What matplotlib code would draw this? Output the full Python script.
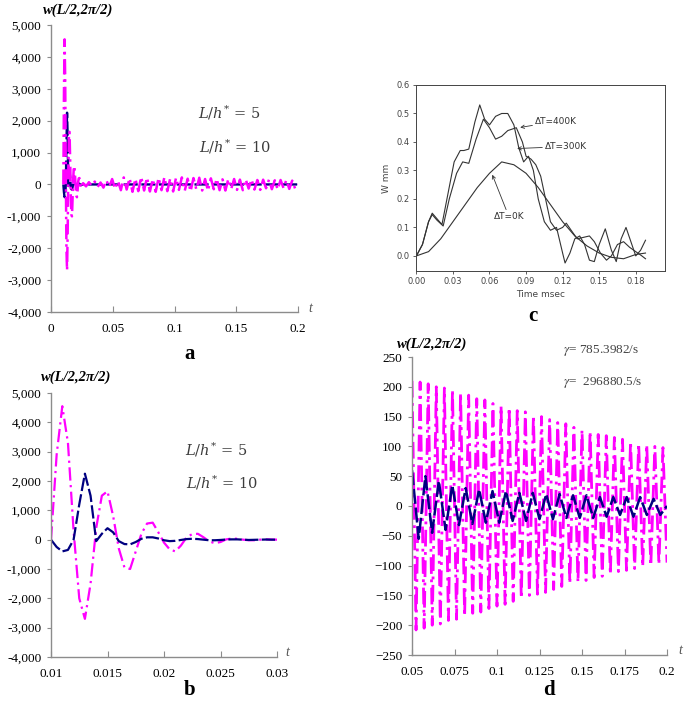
import matplotlib
matplotlib.use('Agg')
import matplotlib.pyplot as plt
import numpy as np
from matplotlib.ticker import FuncFormatter

plt.rcParams['mathtext.fontset'] = 'stix'

W, H = 685, 702

# ---- panel b (and start of panel a): t = 0.010 .. 0.030, step 0.0005
t_b = np.linspace(0.01, 0.03, 41)
mag_b = [0, 2900, 4550, 3300, 300, -2000, -2700, -1500, 400, 1500,
         1650, 800, -300, -950, -1000, -400, 200, 550, 580, 250,
         -100, -330, -400, -200, 80, 190, 200, 80, -60, -120,
         -80, 10, 40, 30, 0, -20, -20, 0, 10, 5, 0]
navy_b = [0, -250, -400, -350, 0, 1200, 2250, 1500, -50, 200,
          390, 250, -50, -150, -160, -80, 30, 80, 80, 40,
          -20, -50, -40, -10, 20, 30, 20, 0, -20, -20,
          -10, 5, 10, 10, 0, -10, -5, 0, 5, 0, 0]

# ---- panel a tail of L/h*=10 (t = 0.026 .. 0.2)
mag_a_tail = [40, -60, 70, -40, 90, -80, 60, -100, 130, -80,
              170, -140, 110, -180, 220, -160, 200, -230, 180, -210,
              240, -190, 220, -220, 170, -230, 210, -180, 230, -210,
              190, -220, 210, -170, 220, -200, 180, -220, 200, -160,
              210, -190, 170, -200, 190, -150, 180, -180, 160, -190,
              170, -140, 170, -170, 150, -180, 160, -130, 160, -160,
              140, -170, 150, -120, 150, -150, 130, -160, 140, -110,
              140, -140, 120, -130, 0]

c_t0 = [0, .01, .02, .03, .04, .05, .06, .065, .07, .08, .09, .1, .11,
        .12, .13, .14, .15, .16, .17, .18, .188]
c_w0 = [0, .015, .06, .12, .18, .24, .29, .31, .33, .32, .29, .24, .18,
        .12, .07, .035, .01, -.005, -.01, .005, .01]
c_t400 = [0, .005, .01, .013, .017, .022, .027, .033, .038, .043, .049, .055,
          .06, .065, .07, .075, .082, .087, .09, .094, .098, .102, .106, .11,
          .115, .12, .123, .127, .132, .137, .142, .146, .151, .156, .16, .165,
          .17, .175, .18, .185, .188]
c_w400 = [0, .04, .12, .145, .125, .105, .2, .29, .33, .325, .41, .48,
          .45, .41, .42, .44, .45, .4, .35, .34, .32, .28, .2, .12,
          .09, .1, .115, .09, .06, .065, .07, .05, .01, -.015, 0, .04,
          .05, .03, .015, 0, -.01]
c_t300 = [0, .005, .01, .013, .017, .021, .026, .031, .036, .039, .043, .048,
          .052, .056, .06, .065, .07, .075, .08, .084, .088, .092, .096, .1,
          .105, .11, .115, .12, .122, .126, .13, .134, .138, .142, .146, .15,
          .155, .16, .164, .168, .172, .176, .18, .184, .188]
c_w300 = [0, .04, .12, .15, .13, .11, .22, .33, .37, .37, .375, .47,
          .53, .48, .46, .49, .5, .5, .46, .38, .33, .35, .3, .2,
          .12, .09, .1, .01, -.025, .01, .06, .07, .04, -.015, -.02, .04,
          .095, .02, -.02, .06, .1, .05, 0, .02, .055]

# ---- panel d (t = 0.05 .. 0.2)
mag_d = [210, -208, 208, -205, 205, -200, 200, -198, 198, -192, 195, -190,
         190, -185, 186, -180, 180, -178, 178, -172, 172, -168, 168, -165,
         165, -160, 160, -155, 158, -150, 152, -148, 150, -145, 145, -140,
         140, -135, 138, -130, 132, -128, 128, -125, 125, -120, 120, -118,
         118, -115, 115, -110, 112, -108, 108, -105, 105, -102, 103, -100,
         100, -98, 98, -95]
navy_d = [60, -55, 50, -45, 42, -40, 35, -32, 30, -30, 28, -28, 25, -28,
          25, -25, 22, -25, 22, -22, 20, -22, 20, -20, 18, -20, 18, -20,
          15, -18, 15, -15, 15, -18, 15, -15, 12, -15, 0]

MAG = '#FF00FF'
NAVY = '#000080'
mag_ls = (0, (6, 2, 1, 2))
navy_ls = (0, (6, 1.5))
serif = 'Liberation Serif'


def box(l, t, r, b):
    return [l / W, 1 - b / H, (r - l) / W, (b - t) / H]


def style(ax):
    for s in ['top', 'right']:
        ax.spines[s].set_visible(False)
    for s in ['left', 'bottom']:
        ax.spines[s].set_color('#8c8c8c')
        ax.spines[s].set_linewidth(1.0)
    ax.tick_params(axis='x', direction='in', length=4, color='#8c8c8c',
                   labelsize=9.5, pad=8)
    ax.tick_params(axis='y', direction='out', length=3, color='#8c8c8c',
                   labelsize=9.5, pad=4)
    for lab in ax.get_xticklabels() + ax.get_yticklabels():
        lab.set_fontfamily(serif)


def ftxt(x, y, s, **kw):
    fig.text(x / W, 1 - y / H, s, **kw)


fig = plt.figure(figsize=(W / 100, H / 100), dpi=100)

comma = FuncFormatter(lambda v, p: '{:,.0f}'.format(v))
gfmt = FuncFormatter(lambda v, p: '{:g}'.format(round(v, 4)))

# ---------------- panel a
ax = fig.add_axes(box(51, 25, 298, 312))
t_a_mag = np.concatenate([t_b[:31], np.linspace(0.026, 0.2, len(mag_a_tail))])
ax.plot(list(t_b) + [0.2], navy_b + [0], color=NAVY, lw=1.7, ls=navy_ls)
ax.plot(t_a_mag, mag_b[:31] + mag_a_tail, color=MAG, lw=1.8, ls=mag_ls)
ax.set_xlim(0, 0.2)
ax.set_ylim(-4000, 5000)
ax.set_xticks([0, 0.05, 0.1, 0.15, 0.2])
ax.set_yticks(range(-4000, 5001, 1000))
ax.xaxis.set_major_formatter(gfmt)
ax.yaxis.set_major_formatter(comma)
style(ax)

# ---------------- panel b
ax = fig.add_axes(box(51, 393, 277, 657))
ax.plot(t_b, mag_b, color=MAG, lw=1.6, ls=mag_ls)
ax.plot(t_b, navy_b, color=NAVY, lw=1.6, ls=navy_ls)
ax.set_xlim(0.01, 0.03)
ax.set_ylim(-4000, 5000)
ax.set_xticks([0.01, 0.015, 0.02, 0.025, 0.03])
ax.set_yticks(range(-4000, 5001, 1000))
ax.xaxis.set_major_formatter(gfmt)
ax.yaxis.set_major_formatter(comma)
style(ax)

# ---------------- panel c
ax = fig.add_axes(box(416, 85, 665, 271))
ax.plot(c_t0, c_w0, color='#333333', lw=0.8)
ax.plot(c_t400, c_w400, color='#333333', lw=0.8)
ax.plot(c_t300, c_w300, color='#333333', lw=0.8)
ax.set_xlim(-0.0003, 0.204)
ax.set_ylim(-0.053, 0.6)
ax.set_xticks([0, 0.03, 0.06, 0.09, 0.12, 0.15, 0.18])
ax.set_yticks([0, 0.1, 0.2, 0.3, 0.4, 0.5, 0.6])
ax.xaxis.set_major_formatter(FuncFormatter(lambda v, p: '%.2f' % v))
ax.yaxis.set_major_formatter(FuncFormatter(lambda v, p: '%.1f' % v))
ax.tick_params(labelsize=6, length=2.5, width=0.6, color='#444444',
               labelcolor='#444444', pad=2)
for s in ax.spines.values():
    s.set_linewidth(0.7)
    s.set_color('#444444')
ax.set_xlabel('Time msec', fontsize=6.5, color='#444444', labelpad=3)
ax.set_ylabel('W mm', fontsize=6.5, color='#444444', labelpad=4)
arrow = dict(arrowstyle='->', lw=0.6, color='#333333', shrinkA=0, shrinkB=0,
             mutation_scale=6)
ax.annotate('ΔT=400K', xy=(0.0852, 0.451), xytext=(0.0975, 0.472),
            fontsize=6.5, color='#333333', va='center', arrowprops=arrow)
ax.annotate('ΔT=300K', xy=(0.0827, 0.377), xytext=(0.1056, 0.384),
            fontsize=6.5, color='#333333', va='center', arrowprops=arrow)
ax.annotate('ΔT=0K', xy=(0.0623, 0.285), xytext=(0.076, 0.137),
            fontsize=6.5, color='#333333', va='center', ha='center',
            arrowprops=arrow)

# ---------------- panel d
ax = fig.add_axes(box(412, 357, 667, 655))
ax.plot(np.linspace(0.05, 0.2, len(mag_d)), mag_d, color=MAG, lw=2.0,
        ls=mag_ls)
ax.plot(np.linspace(0.05, 0.2, len(navy_d)), navy_d, color=NAVY, lw=1.8,
        ls=navy_ls)
ax.set_xlim(0.05, 0.2)
ax.set_ylim(-250, 250)
ax.set_xticks([0.05, 0.075, 0.1, 0.125, 0.15, 0.175, 0.2])
ax.set_yticks(range(-250, 251, 50))
ax.xaxis.set_major_formatter(gfmt)
style(ax)

# ---------------- texts
title = 'w(L/2,2π/2)'
tkw = dict(fontfamily=serif, fontweight='bold', fontstyle='italic',
           fontsize=10.5, ha='center', va='center')
ftxt(78, 10, title, **tkw)
ftxt(76, 377, title, **tkw)
ftxt(432, 344, title, **tkw)

lkw = dict(fontsize=10.5, color='#3c3c3c', va='center', ha='left',
           math_fontfamily='dejavuserif')
ftxt(198, 113, r'$L/h^{*}$ = 5', fontfamily='DejaVu Serif', **lkw)
ftxt(199, 147, r'$L/h^{*}$ = 10', fontfamily='DejaVu Serif', **lkw)
ftxt(185, 450, r'$L/h^{*}$ = 5', fontfamily='DejaVu Serif', **lkw)
ftxt(186, 483, r'$L/h^{*}$ = 10', fontfamily='DejaVu Serif', **lkw)

gkw = dict(fontsize=9.5, color='#444444', va='center', ha='left',
           fontfamily=serif)
ftxt(563, 350, r'$\gamma$= 785.3982/s', **gkw)
ftxt(563, 382, r'$\gamma$=  296880.5/s', **gkw)

ikw = dict(fontfamily=serif, fontstyle='italic', fontsize=10,
           color='#555555', ha='center', va='center')
ftxt(310, 308, 't', **ikw)
ftxt(287, 652, 't', **ikw)
ftxt(680, 651, 't', **ikw)

pkw = dict(fontfamily=serif, fontweight='bold', fontsize=15,
           ha='center', va='center')
ftxt(190, 354, 'a', **pkw)
ftxt(190, 690, 'b', **pkw)
ftxt(533, 316, 'c', **pkw)
ftxt(549, 690, 'd', **pkw)

fig.savefig('out.png', dpi=100)
